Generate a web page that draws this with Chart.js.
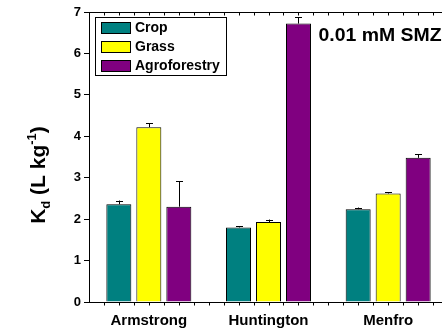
<!DOCTYPE html>
<html lang="en">
<head>
    <meta charset="UTF-8">
    <title>Kd 0.01 mM SMZ</title>
    <script src="https://cdn.jsdelivr.net/npm/chart.js"></script>
    <style>
        html, body {
            margin: 0;
            padding: 0;
            background: #fff;
            overflow: hidden;
        }
        .wrap {
            width: 448px;
            height: 329px;
        }
    </style>
</head>
<body>
    <div class="wrap">
        <canvas id="kdChart" width="448" height="329"></canvas>
    </div>

    <script>
        // data
        const sites = ['Armstrong', 'Huntington', 'Menfro'];
        const cropKd = [2.36, 1.80, 2.24];
        const grassKd = [4.22, 1.93, 2.62];
        const agroKd = [2.30, 6.72, 3.48];
        const cropErr = [0.09, 0.03, 0.04];
        const grassErr = [0.09, 0.06, 0.03];
        const agroErr = [0.62, 0.15, 0.09];
        const yTicks = [0, 1, 2, 3, 4, 5, 6, 7];

        const FONT = 'Arial, "Liberation Sans", sans-serif';

        // error bars (upper half only), black caps
        const errorBars = {
            id: 'errorBars',
            afterDatasetsDraw(chart) {
                const ctx = chart.ctx;
                const y = chart.scales.y;
                ctx.save();
                ctx.strokeStyle = '#000';
                ctx.lineWidth = 1;
                chart.data.datasets.forEach((ds, i) => {
                    const meta = chart.getDatasetMeta(i);
                    meta.data.forEach((bar, j) => {
                        const top = y.getPixelForValue(ds.data[j] + ds.err[j]);
                        const x = Math.round(bar.x) + 0.5;
                        ctx.beginPath();
                        ctx.moveTo(x, bar.y);
                        ctx.lineTo(x, top);
                        ctx.moveTo(x - 3.5, Math.round(top) + 0.5);
                        ctx.lineTo(x + 3.5, Math.round(top) + 0.5);
                        ctx.stroke();
                    });
                });
                ctx.restore();
            }
        };

        // frame, minor ticks, legend box, note and y title
        const decorations = {
            id: 'decorations',
            afterDraw(chart) {
                const ctx = chart.ctx;
                const area = chart.chartArea;
                const x = chart.scales.x;
                ctx.save();
                ctx.strokeStyle = '#000';
                ctx.lineWidth = 1;

                // top frame line
                const top = Math.round(area.top) + 0.5;
                ctx.beginPath();
                ctx.moveTo(area.left, top);
                ctx.lineTo(area.right, top);
                ctx.stroke();

                // minor ticks, 8 per category
                const step = (area.right - area.left) / (sites.length * 8);
                const bottom = Math.round(area.bottom) + 0.5;
                ctx.beginPath();
                for (let k = 1; k < sites.length * 8; k++) {
                    const px = Math.round(area.left + k * step) + 0.5;
                    ctx.moveTo(px, bottom);
                    ctx.lineTo(px, bottom + 3);
                    ctx.moveTo(px, top);
                    ctx.lineTo(px, top + 3);
                }
                ctx.stroke();

                // legend
                const lx = area.left + 6;
                const ly = area.top + 5;
                ctx.strokeRect(Math.round(lx) + 0.5, Math.round(ly) + 0.5, 131, 58);
                ctx.font = 'bold 14px ' + FONT;
                ctx.textBaseline = 'middle';
                ctx.textAlign = 'left';
                chart.data.datasets.forEach((ds, i) => {
                    const sy = Math.round(ly + 5 + i * 19);
                    ctx.fillStyle = ds.backgroundColor;
                    ctx.fillRect(lx + 6, sy, 29, 11);
                    ctx.strokeRect(lx + 6.5, sy + 0.5, 29, 11);
                    ctx.fillStyle = '#000';
                    ctx.fillText(ds.label, lx + 40, sy + 6);
                });

                // concentration note (slightly wide, like the original)
                ctx.save();
                ctx.translate(x.getPixelForValue(1) + 50, area.top + 24);
                ctx.scale(1.08, 1);
                ctx.font = 'bold 18px ' + FONT;
                ctx.fillText('0.01 mM SMZ', 0, 0);
                ctx.restore();

                // y axis title: K_d (L kg^-1)
                const big = 'bold 21px ' + FONT;
                const small = 'bold 13px ' + FONT;
                const parts = [
                    { t: 'K', f: big, dy: 0 },
                    { t: 'd', f: small, dy: 5 },
                    { t: ' (L kg', f: big, dy: 0 },
                    { t: '-1', f: small, dy: -9 },
                    { t: ')', f: big, dy: 0 }
                ];
                let total = 0;
                parts.forEach(p => { ctx.font = p.f; total += ctx.measureText(p.t).width; });
                ctx.translate(45, 175);
                ctx.rotate(-Math.PI / 2);
                ctx.textBaseline = 'alphabetic';
                let cx = -total / 2;
                parts.forEach(p => {
                    ctx.font = p.f;
                    ctx.fillText(p.t, cx, p.dy);
                    cx += ctx.measureText(p.t).width;
                });
                ctx.restore();
            }
        };

        new Chart(document.getElementById('kdChart'), {
            type: 'bar',
            data: {
                labels: sites,
                datasets: [
                    { label: 'Crop', data: cropKd, err: cropErr, backgroundColor: '#008080' },
                    { label: 'Grass', data: grassKd, err: grassErr, backgroundColor: '#ffff00' },
                    { label: 'Agroforestry', data: agroKd, err: agroErr, backgroundColor: '#800080' }
                ].map(ds => Object.assign(ds, {
                    borderColor: '#000',
                    borderWidth: 1,
                    barPercentage: 0.833,
                    categoryPercentage: 0.752
                }))
            },
            options: {
                responsive: false,
                animation: false,
                layout: { padding: { top: 12, right: 0, left: 0, bottom: 0 } },
                plugins: {
                    legend: { display: false },
                    tooltip: { enabled: false }
                },
                scales: {
                    x: {
                        grid: { display: false, drawTicks: false },
                        border: { color: '#000', width: 1 },
                        ticks: {
                            color: '#000',
                            padding: 10,
                            font: { family: FONT, size: 15, weight: 'bold' }
                        },
                        afterFit(scale) { scale.height = 27; }
                    },
                    y: {
                        min: 0,
                        max: 7,
                        afterBuildTicks(scale) {
                            scale.ticks = yTicks.map(v => ({ value: v }));
                        },
                        grid: {
                            drawOnChartArea: false,
                            drawTicks: true,
                            tickLength: 5,
                            color: '#000'
                        },
                        border: { color: '#000', width: 1 },
                        ticks: {
                            color: '#000',
                            padding: 3,
                            font: { family: FONT, size: 13, weight: 'bold' }
                        },
                        afterFit(scale) { scale.width = 89; }
                    }
                }
            },
            plugins: [errorBars, decorations]
        });
    </script>
</body>
</html>
